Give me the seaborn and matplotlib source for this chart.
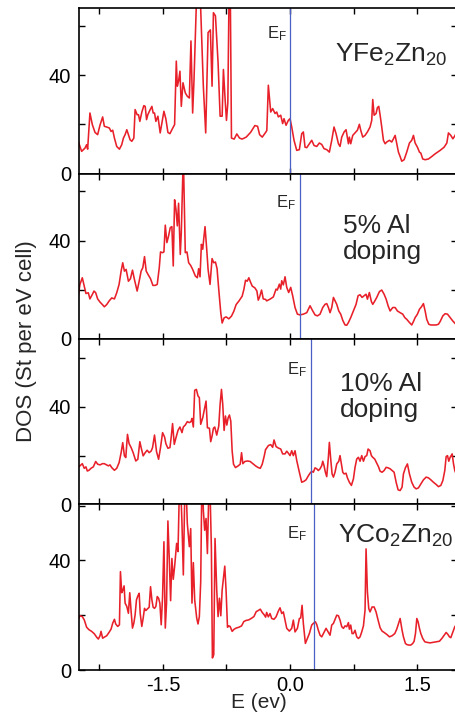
import matplotlib
matplotlib.use("Agg")
import matplotlib.pyplot as plt
import pandas as pd
import seaborn as sns
from matplotlib.ticker import FixedLocator, FormatStrFormatter

# ---- density of states, (E in eV, DOS in states per eV per cell) ----
yfe_points = [
    (-2.499, 13.1), (-2.459, 9.0), (-2.420, 10.3), (-2.400, 11.7), (-2.388, 9.9), (-2.361, 24.6),
    (-2.333, 19.9), (-2.301, 16.7), (-2.270, 15.8), (-2.242, 19.7), (-2.211, 23.0), (-2.191, 19.2),
    (-2.163, 18.9), (-2.132, 18.5), (-2.112, 17.1), (-2.092, 17.6), (-2.072, 14.4), (-2.045, 11.0),
    (-2.013, 9.9), (-1.986, 11.7), (-1.966, 14.4), (-1.946, 15.8), (-1.926, 17.8), (-1.907, 15.8),
    (-1.887, 13.7), (-1.867, 13.1), (-1.843, 14.4), (-1.828, 26.0), (-1.804, 23.9), (-1.788, 23.9),
    (-1.772, 21.2), (-1.749, 24.9), (-1.725, 27.6), (-1.709, 27.3), (-1.693, 21.9), (-1.678, 23.9),
    (-1.654, 25.7), (-1.630, 27.3), (-1.615, 24.6), (-1.599, 24.6), (-1.583, 21.2), (-1.559, 23.3),
    (-1.532, 16.5), (-1.512, 20.5), (-1.488, 25.3), (-1.465, 22.2), (-1.441, 16.7), (-1.417, 16.2),
    (-1.394, 17.8), (-1.362, 19.9), (-1.342, 45.7), (-1.330, 35.5), (-1.315, 37.6), (-1.299, 41.6),
    (-1.283, 27.3), (-1.263, 36.9), (-1.236, 32.8), (-1.212, 31.4), (-1.188, 30.7), (-1.169, 53.9),
    (-1.149, 24.6), (-1.133, 38.2), (-1.082, 95.0), (-1.023, 35.5), (-0.995, 16.5), (-0.967, 57.3),
    (-0.940, 58.4), (-0.920, 35.5), (-0.904, 65.4), (-0.880, 64.1), (-0.849, 45.0), (-0.825, 23.3),
    (-0.801, 23.3), (-0.786, 42.3), (-0.766, 30.1), (-0.750, 21.6), (-0.734, 28.7), (-0.711, 100.0),
    (-0.691, 14.4), (-0.659, 14.0), (-0.628, 16.1), (-0.596, 14.4), (-0.565, 14.0), (-0.517, 14.8),
    (-0.466, 16.7), (-0.415, 19.5), (-0.383, 19.2), (-0.359, 15.8), (-0.328, 14.8), (-0.288, 16.7),
    (-0.274, 17.5), (-0.256, 35.9), (-0.228, 25.0), (-0.205, 26.4), (-0.177, 24.4), (-0.157, 25.0),
    (-0.138, 23.0), (-0.110, 23.7), (-0.087, 20.3), (-0.071, 22.3), (-0.047, 19.6), (-0.020, 21.6),
    (0.000, 22.3), (0.020, 18.9), (0.047, 13.5), (0.079, 9.4), (0.110, 9.7), (0.138, 16.2),
    (0.157, 16.9), (0.177, 10.7), (0.197, 10.5), (0.228, 12.1), (0.256, 13.5), (0.283, 11.4),
    (0.315, 11.0), (0.346, 12.4), (0.374, 11.8), (0.401, 10.1), (0.433, 9.7), (0.464, 8.7),
    (0.492, 13.5), (0.519, 18.9), (0.543, 16.2), (0.571, 12.1), (0.590, 11.0), (0.610, 14.8),
    (0.638, 16.9), (0.661, 17.8), (0.689, 12.1), (0.700, 14.8), (0.716, 12.1), (0.740, 15.5),
    (0.767, 16.5), (0.795, 17.6), (0.818, 20.0), (0.834, 17.6), (0.858, 14.8), (0.885, 15.5),
    (0.913, 16.9), (0.944, 18.9), (0.964, 21.6), (0.976, 30.1), (0.992, 23.7), (1.015, 24.4),
    (1.031, 26.8), (1.047, 27.3), (1.063, 23.7), (1.082, 18.9), (1.102, 13.5), (1.122, 12.1),
    (1.141, 12.8), (1.173, 13.5), (1.200, 12.8), (1.220, 14.1), (1.240, 15.5), (1.259, 12.1),
    (1.279, 8.7), (1.299, 6.9), (1.318, 5.0), (1.346, 5.6), (1.377, 8.7), (1.409, 12.4),
    (1.436, 13.5), (1.456, 15.5), (1.476, 12.4), (1.503, 10.7), (1.527, 8.7), (1.543, 8.3),
    (1.566, 5.9), (1.594, 5.6), (1.633, 5.9), (1.672, 6.9), (1.712, 8.0), (1.771, 9.4),
    (1.818, 10.7), (1.850, 12.4), (1.869, 16.5), (1.897, 15.5), (1.921, 14.1), (1.948, 15.5),
    (1.960, 16.5),
]

al5_points = [
    (-2.507, 15.4), (-2.479, 22.2), (-2.451, 24.9), (-2.428, 21.5), (-2.408, 18.5), (-2.380, 18.8),
    (-2.361, 16.3), (-2.333, 18.1), (-2.313, 19.5), (-2.293, 18.8), (-2.270, 16.3), (-2.242, 15.0),
    (-2.214, 14.0), (-2.191, 13.1), (-2.163, 14.0), (-2.136, 15.4), (-2.104, 16.7), (-2.072, 16.3),
    (-2.045, 18.8), (-2.017, 22.2), (-1.993, 27.6), (-1.974, 31.0), (-1.954, 27.6), (-1.934, 28.3),
    (-1.907, 23.5), (-1.883, 24.5), (-1.859, 28.0), (-1.836, 24.2), (-1.804, 19.5), (-1.780, 23.5),
    (-1.757, 27.6), (-1.737, 29.0), (-1.717, 33.5), (-1.697, 27.6), (-1.670, 25.9), (-1.646, 24.5),
    (-1.618, 21.8), (-1.591, 21.8), (-1.567, 22.2), (-1.543, 29.0), (-1.528, 35.4), (-1.504, 35.1),
    (-1.488, 35.4), (-1.472, 46.3), (-1.453, 39.2), (-1.433, 41.9), (-1.413, 45.3), (-1.394, 45.7),
    (-1.378, 29.7), (-1.362, 56.6), (-1.346, 52.8), (-1.330, 46.0), (-1.315, 55.2), (-1.295, 34.4),
    (-1.283, 43.3), (-1.259, 75.0), (-1.236, 35.1), (-1.216, 35.4), (-1.196, 31.0), (-1.172, 29.9),
    (-1.149, 28.3), (-1.117, 25.6), (-1.094, 24.9), (-1.078, 28.6), (-1.062, 25.3), (-1.046, 38.5),
    (-1.030, 36.5), (-1.019, 40.5), (-1.003, 45.7), (-0.983, 36.5), (-0.967, 28.3), (-0.944, 22.2),
    (-0.920, 32.7), (-0.900, 31.0), (-0.880, 31.3), (-0.861, 28.6), (-0.841, 20.1), (-0.817, 10.6),
    (-0.801, 6.5), (-0.778, 8.6), (-0.754, 9.0), (-0.722, 8.2), (-0.691, 9.3), (-0.663, 11.3),
    (-0.636, 14.0), (-0.604, 15.4), (-0.565, 17.4), (-0.545, 20.1), (-0.525, 23.9), (-0.505, 23.5),
    (-0.486, 24.9), (-0.466, 23.1), (-0.446, 21.5), (-0.415, 20.8), (-0.391, 19.5), (-0.375, 15.8),
    (-0.359, 17.1), (-0.336, 19.9), (-0.316, 16.3), (-0.288, 16.1),
    (-0.276, 15.5), (-0.236, 16.2), (-0.197, 17.1), (-0.165, 20.3), (-0.150, 19.9), (-0.126, 22.3),
    (-0.110, 20.3), (-0.098, 23.7), (-0.079, 22.0), (-0.059, 25.3), (-0.039, 21.0), (-0.016, 18.9),
    (0.008, 21.0), (0.031, 17.6), (0.059, 12.8), (0.087, 10.1), (0.118, 9.8), (0.157, 10.1),
    (0.197, 10.7), (0.236, 13.5), (0.268, 11.4), (0.295, 9.8), (0.323, 9.4), (0.354, 10.1),
    (0.386, 12.8), (0.413, 14.1), (0.433, 14.4), (0.453, 12.8), (0.472, 10.7), (0.492, 12.8),
    (0.512, 16.9), (0.531, 15.5), (0.551, 14.1), (0.575, 11.4), (0.598, 10.1), (0.622, 7.6),
    (0.649, 5.7), (0.669, 5.6), (0.689, 6.7), (0.716, 8.7), (0.748, 11.4), (0.779, 14.1),
    (0.803, 17.6), (0.826, 18.0), (0.850, 16.9), (0.874, 17.6), (0.897, 18.2), (0.913, 16.2),
    (0.936, 18.9), (0.960, 15.2), (0.976, 14.1), (0.996, 15.2), (1.023, 16.9), (1.055, 19.3),
    (1.082, 19.9), (1.110, 18.2), (1.134, 16.2), (1.157, 13.5), (1.181, 11.4), (1.212, 12.8),
    (1.240, 12.8), (1.267, 11.4), (1.299, 10.7), (1.330, 10.1), (1.354, 8.7), (1.377, 8.0),
    (1.409, 6.7), (1.436, 5.7), (1.456, 7.1), (1.476, 8.7), (1.503, 10.1), (1.527, 12.1),
    (1.551, 13.1), (1.574, 14.4), (1.594, 11.4), (1.613, 8.0), (1.637, 6.0), (1.661, 5.7),
    (1.692, 5.7), (1.724, 5.7), (1.751, 6.0), (1.771, 7.1), (1.803, 9.4), (1.830, 10.3),
    (1.858, 10.1), (1.889, 8.7), (1.921, 7.3), (1.948, 6.3), (1.960, 6.0),
]

al10_points = [
    (-2.507, 15.1), (-2.479, 15.8), (-2.451, 16.7), (-2.428, 14.8), (-2.408, 15.4), (-2.392, 13.7),
    (-2.372, 14.0), (-2.349, 14.8), (-2.321, 15.4), (-2.293, 17.6), (-2.270, 16.5), (-2.242, 16.2),
    (-2.214, 16.7), (-2.191, 16.7), (-2.163, 16.2), (-2.143, 15.8), (-2.124, 16.2), (-2.104, 15.1),
    (-2.072, 14.0), (-2.045, 14.8), (-2.017, 17.1), (-1.993, 21.2), (-1.974, 25.3), (-1.954, 19.9),
    (-1.938, 19.2), (-1.918, 28.7), (-1.899, 24.9), (-1.875, 23.3), (-1.851, 21.2), (-1.820, 17.8),
    (-1.796, 18.5), (-1.772, 25.7), (-1.757, 23.3), (-1.733, 19.9), (-1.709, 21.2), (-1.686, 22.2),
    (-1.662, 21.2), (-1.638, 21.9), (-1.622, 23.3), (-1.599, 28.4), (-1.575, 21.6), (-1.551, 18.5),
    (-1.528, 23.3), (-1.504, 29.4), (-1.480, 27.6), (-1.465, 24.9), (-1.441, 23.0), (-1.417, 23.3),
    (-1.401, 27.9), (-1.386, 33.1), (-1.366, 24.6), (-1.346, 27.3), (-1.322, 30.3), (-1.299, 31.7),
    (-1.275, 29.4), (-1.259, 31.7), (-1.236, 32.5), (-1.212, 33.9), (-1.188, 33.5), (-1.169, 33.9),
    (-1.157, 35.2), (-1.141, 31.7), (-1.125, 46.7), (-1.105, 47.1), (-1.086, 44.4), (-1.070, 43.7),
    (-1.054, 32.8), (-1.030, 35.5), (-1.007, 39.6), (-0.991, 42.3), (-0.975, 31.4), (-0.951, 31.2),
    (-0.936, 25.7), (-0.920, 28.0), (-0.904, 31.2), (-0.888, 31.7), (-0.865, 28.4), (-0.841, 32.1),
    (-0.825, 41.0), (-0.809, 47.1), (-0.794, 41.0), (-0.778, 30.3), (-0.762, 36.2), (-0.746, 32.5),
    (-0.730, 35.5), (-0.715, 36.6), (-0.699, 34.1), (-0.683, 21.9), (-0.667, 16.5), (-0.644, 15.1),
    (-0.612, 15.8), (-0.588, 16.5), (-0.572, 21.2), (-0.557, 16.7), (-0.533, 17.6), (-0.501, 17.8),
    (-0.470, 17.6), (-0.438, 16.7), (-0.407, 15.8), (-0.375, 15.1), (-0.351, 14.8), (-0.328, 16.5),
    (-0.304, 19.9), (-0.288, 22.6),
    (-0.283, 22.7), (-0.256, 24.1), (-0.228, 24.5), (-0.205, 23.4), (-0.189, 26.4), (-0.165, 23.7),
    (-0.138, 23.1), (-0.110, 22.7), (-0.087, 20.7), (-0.059, 20.7), (-0.039, 21.8), (-0.020, 21.0),
    (0.000, 20.0), (0.020, 22.0), (0.039, 20.0), (0.059, 22.0), (0.079, 18.0), (0.110, 13.2),
    (0.138, 9.1), (0.165, 9.5), (0.189, 10.1), (0.217, 11.8), (0.236, 12.8), (0.256, 13.6),
    (0.275, 13.2), (0.295, 15.0), (0.315, 14.6), (0.334, 13.9), (0.354, 14.6), (0.374, 15.9),
    (0.386, 17.7), (0.401, 15.9), (0.417, 13.2), (0.433, 11.4), (0.453, 19.6), (0.464, 25.4),
    (0.480, 18.6), (0.496, 12.5), (0.512, 11.2), (0.531, 13.2), (0.551, 16.6), (0.575, 17.7),
    (0.590, 20.0), (0.606, 16.6), (0.622, 13.2), (0.638, 12.5), (0.661, 12.8), (0.677, 10.9),
    (0.700, 9.1), (0.724, 7.8), (0.748, 10.5), (0.767, 15.2), (0.787, 18.6), (0.807, 19.3),
    (0.826, 17.7), (0.846, 20.0), (0.866, 17.7), (0.885, 19.6), (0.905, 20.0), (0.921, 22.7),
    (0.944, 22.0), (0.960, 20.0), (0.976, 19.3), (0.999, 18.6), (1.023, 16.9), (1.043, 15.5),
    (1.063, 13.6), (1.086, 13.2), (1.110, 13.9), (1.134, 15.2), (1.157, 15.0), (1.181, 14.6),
    (1.204, 13.9), (1.228, 13.2), (1.252, 9.1), (1.275, 6.0), (1.299, 5.7), (1.322, 7.1),
    (1.338, 12.5), (1.361, 15.0), (1.385, 16.6), (1.409, 12.5), (1.436, 9.1), (1.464, 7.1),
    (1.488, 6.4), (1.515, 6.8), (1.543, 8.4), (1.574, 10.1), (1.606, 11.2), (1.633, 10.9),
    (1.661, 10.1), (1.692, 9.1), (1.724, 8.2), (1.751, 7.3), (1.779, 7.8), (1.803, 9.8),
    (1.826, 13.9), (1.842, 19.6), (1.858, 20.0), (1.873, 17.7), (1.889, 19.3), (1.913, 20.7),
    (1.929, 16.6), (1.944, 13.9), (1.960, 12.5),
]

yco_points = [
    (-2.507, 17.7), (-2.479, 19.8), (-2.451, 19.5), (-2.428, 18.3), (-2.400, 15.6), (-2.372, 14.7),
    (-2.341, 14.1), (-2.309, 13.2), (-2.282, 12.0), (-2.262, 11.3), (-2.242, 12.5), (-2.230, 14.1),
    (-2.211, 11.6), (-2.191, 12.0), (-2.163, 12.5), (-2.136, 13.7), (-2.112, 14.9), (-2.092, 17.1),
    (-2.072, 18.5), (-2.057, 16.8), (-2.033, 15.9), (-2.013, 16.5), (-2.001, 35.9), (-1.986, 28.2),
    (-1.974, 29.0), (-1.958, 30.7), (-1.946, 24.4), (-1.926, 23.2), (-1.907, 20.7), (-1.891, 28.2),
    (-1.875, 21.3), (-1.859, 15.3), (-1.843, 17.1), (-1.828, 20.1), (-1.812, 25.6), (-1.796, 27.0),
    (-1.780, 28.0), (-1.768, 20.7), (-1.749, 15.9), (-1.733, 18.9), (-1.717, 22.5), (-1.701, 21.7),
    (-1.686, 22.2), (-1.662, 22.9), (-1.646, 30.4), (-1.630, 25.6), (-1.615, 22.9), (-1.599, 22.5),
    (-1.583, 23.2), (-1.567, 26.8), (-1.551, 26.2), (-1.536, 24.4), (-1.520, 16.5), (-1.504, 26.8),
    (-1.488, 46.8), (-1.472, 15.3), (-1.457, 24.4), (-1.441, 54.4), (-1.425, 40.7), (-1.409, 25.3),
    (-1.394, 40.7), (-1.378, 33.1), (-1.362, 37.7), (-1.338, 46.2), (-1.322, 43.2), (-1.299, 75.0),
    (-1.275, 53.5), (-1.259, 34.7), (-1.236, 75.0), (-1.212, 53.5), (-1.188, 45.0), (-1.172, 51.6),
    (-1.157, 24.4), (-1.141, 39.2), (-1.125, 25.6), (-1.101, 18.9), (-1.086, 16.8), (-1.070, 19.5),
    (-1.054, 32.2), (-1.038, 75.0), (-1.023, 58.3), (-1.007, 51.0), (-0.991, 55.3), (-0.975, 42.5),
    (-0.951, 75.0), (-0.928, 44.4), (-0.916, 4.4), (-0.900, 5.6), (-0.885, 48.0), (-0.865, 29.2),
    (-0.849, 19.5), (-0.833, 26.2), (-0.817, 19.8), (-0.801, 29.2), (-0.786, 33.5), (-0.770, 37.9),
    (-0.754, 28.6), (-0.738, 15.6), (-0.722, 16.1), (-0.707, 15.9), (-0.683, 14.1), (-0.659, 14.9),
    (-0.636, 15.3), (-0.604, 15.6), (-0.572, 16.1), (-0.545, 17.7), (-0.517, 18.1), (-0.486, 18.3),
    (-0.454, 18.9), (-0.426, 19.5), (-0.399, 21.3), (-0.375, 21.7), (-0.351, 22.2), (-0.328, 21.0),
    (-0.304, 20.1), (-0.288, 19.3),
    (-0.276, 21.0), (-0.256, 19.4), (-0.236, 20.6), (-0.216, 18.8), (-0.189, 18.5), (-0.165, 19.4),
    (-0.138, 21.5), (-0.118, 22.7), (-0.098, 20.6), (-0.079, 21.2), (-0.059, 18.2), (-0.039, 15.2),
    (-0.008, 14.2), (0.020, 15.2), (0.039, 18.2), (0.059, 13.9), (0.087, 15.2), (0.110, 18.8),
    (0.126, 19.0), (0.142, 23.6), (0.157, 17.0), (0.181, 9.7), (0.205, 11.5), (0.228, 13.3),
    (0.256, 16.4), (0.275, 17.0), (0.299, 17.6), (0.315, 16.6), (0.334, 14.5), (0.354, 12.7),
    (0.374, 12.1), (0.394, 13.3), (0.425, 15.2), (0.453, 13.7), (0.472, 12.7), (0.492, 16.4),
    (0.512, 17.0), (0.535, 18.8), (0.551, 20.0), (0.571, 19.8), (0.590, 18.2), (0.610, 15.8),
    (0.630, 15.2), (0.649, 16.1), (0.669, 15.8), (0.689, 17.3), (0.700, 14.9), (0.716, 16.4),
    (0.732, 13.3), (0.748, 13.3), (0.767, 14.5), (0.787, 12.1), (0.807, 11.5), (0.826, 12.1),
    (0.846, 13.9), (0.866, 16.1), (0.885, 21.8), (0.897, 44.2), (0.913, 28.5), (0.929, 22.4),
    (0.944, 21.2), (0.968, 23.0), (0.992, 23.0), (1.015, 21.2), (1.039, 18.2), (1.063, 15.4),
    (1.086, 14.2), (1.110, 13.7), (1.141, 13.0), (1.173, 12.1), (1.204, 12.5), (1.236, 13.3),
    (1.259, 14.9), (1.283, 17.3), (1.299, 18.8), (1.322, 14.5), (1.338, 12.1), (1.361, 9.7),
    (1.377, 9.3), (1.401, 9.1), (1.425, 9.1), (1.448, 9.7), (1.464, 10.5), (1.480, 13.3),
    (1.496, 18.8), (1.511, 17.6), (1.527, 15.2), (1.543, 13.3), (1.566, 11.5), (1.590, 10.3),
    (1.613, 10.1), (1.653, 9.9), (1.692, 10.1), (1.732, 10.3), (1.763, 10.5), (1.791, 11.5),
    (1.818, 12.7), (1.842, 13.7), (1.862, 13.0), (1.881, 12.1), (1.897, 11.8), (1.921, 13.9),
    (1.944, 15.8), (1.960, 16.4),
]

panel_labels = [r"YFe$_{\mathrm{2}}$Zn$_{\mathrm{20}}$", "5% Al\ndoping", "10% Al\ndoping",
                r"YCo$_{\mathrm{2}}$Zn$_{\mathrm{20}}$"]
fermi_levels = [0.0, 0.118, 0.248, 0.287]
panel_ymax = [67.3, 67.3, 67.7, 60.4]
y_tick_labels = [0, 40]
x_tick_labels = [-1.5, 0.0, 1.5]

# label anchors (data coordinates; baseline of the last text line)
label_pos = [(0.53, 45.3), (0.626, 32.7), (0.59, 35.9), (0.567, 46.5)]
ef_pos = [(-0.275, 55.1), (-0.165, 53.6), (-0.039, 53.3), (-0.039, 47.9)]

RED = "#e8202a"
BLUE = "#4a60c4"

sns.set_style("ticks")
plt.rcParams["font.family"] = ["Liberation Sans", "DejaVu Sans"]
plt.rcParams["mathtext.fontset"] = "custom"
plt.rcParams["mathtext.rm"] = "Liberation Sans"
plt.rcParams["mathtext.it"] = "Liberation Sans:italic"
plt.rcParams["mathtext.bf"] = "Liberation Sans:bold"
plt.rcParams["axes.unicode_minus"] = False
plt.rcParams["axes.edgecolor"] = "black"
plt.rcParams["xtick.color"] = "black"
plt.rcParams["ytick.color"] = "black"

W, H = 456, 714
fig, axes = plt.subplots(4, 1, figsize=(W / 100, H / 100), dpi=100, sharex=True)
fig.subplots_adjust(left=79 / W, right=457 / W, top=1 - 8 / H, bottom=1 - 670 / H, hspace=0)

series = [yfe_points, al5_points, al10_points, yco_points]
for i, ax in enumerate(axes):
    df = pd.DataFrame(series[i], columns=["E", "DOS"])
    sns.lineplot(data=df, x="E", y="DOS", ax=ax, color=RED, linewidth=1.15,
                 estimator=None, sort=False)
    ax.axvline(fermi_levels[i], color=BLUE, linewidth=0.9)
    ax.set_xlim(-2.49, 1.97)
    ax.set_ylim(0, panel_ymax[i])
    ax.set_xlabel("")
    ax.set_ylabel("")

    ax.yaxis.set_major_locator(FixedLocator(y_tick_labels))
    ax.yaxis.set_minor_locator(FixedLocator([20, 60]))
    ax.xaxis.set_major_locator(FixedLocator(x_tick_labels))
    ax.xaxis.set_minor_locator(FixedLocator([-2.25, -0.75, 0.75]))
    ax.xaxis.set_major_formatter(FormatStrFormatter("%.1f"))
    ax.tick_params(which="both", direction="in", top=True, right=True,
                   length=4.3, width=1.0, labelsize=14.5)
    ax.tick_params(axis="y", pad=5.5)
    ax.tick_params(axis="x", pad=4.5)
    for sp in ax.spines.values():
        sp.set_linewidth(1.2)
        sp.set_color("black")

    ax.text(ef_pos[i][0], ef_pos[i][1], r"E$_{\mathrm{F}}$", fontsize=12,
            ha="left", va="baseline")
    ax.text(label_pos[i][0], label_pos[i][1], panel_labels[i], fontsize=19,
            ha="left", va="baseline", linespacing=1.1, multialignment="left")

for ax in axes[:-1]:
    ax.tick_params(axis="x", labelbottom=False)

fig.text(27 / W, 1 - 341 / H, "DOS (St per eV cell)", rotation=90,
         ha="center", va="center", fontsize=16)
fig.text(258.7 / W, 1 - 708 / H, "E (ev)", ha="center", va="baseline", fontsize=15)

fig.savefig("out.png", dpi=100)
